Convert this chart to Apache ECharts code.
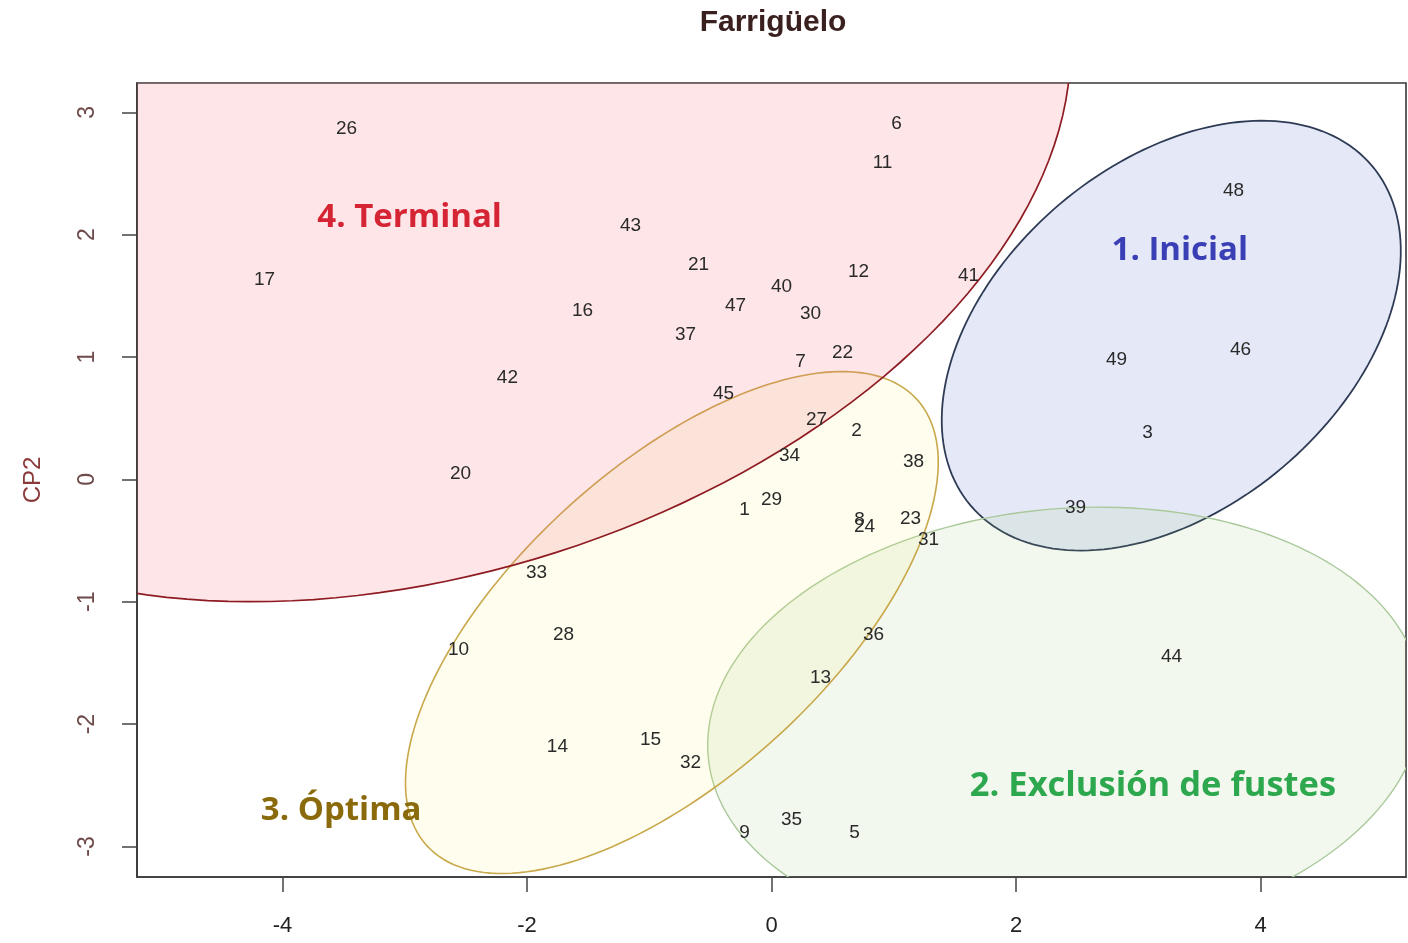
<!DOCTYPE html>
<html>
<head>
<meta charset="utf-8">
<script src="https://cdn.jsdelivr.net/npm/echarts@6/dist/echarts.min.js"></script>
<style>
html,body{margin:0;padding:0;background:#fff;}
#chart{width:1408px;height:943px;}
</style>
</head>
<body>
<div id="chart"></div>
<script>
// ---- data ----
const pointIds = ['26','6','11','48','43','21','17','12','41','40','47','16','30','37','22','7','49','46','42','45','27','2','3','34','38','20','29','1','39','8','24','23','31','33','28','10','36','44','13','14','15','32','35','5','9'];
const cp1 = [-3.476,1.022,0.908,3.779,-1.153,-0.597,-4.147,0.712,1.611,0.082,-0.294,-1.546,0.319,-0.703,0.581,0.237,2.822,3.836,-2.160,-0.393,0.368,0.695,3.076,0.147,1.162,-2.544,0.000,-0.221,2.487,0.720,0.761,1.137,1.284,-1.922,-1.701,-2.560,0.834,3.272,0.401,-1.751,-0.990,-0.663,0.164,0.679,-0.221];
const cp2 = [2.864,2.904,2.586,2.357,2.071,1.753,1.634,1.695,1.663,1.577,1.422,1.381,1.357,1.185,1.034,0.960,0.976,1.058,0.829,0.700,0.490,0.396,0.380,0.192,0.143,0.045,-0.168,-0.249,-0.233,-0.331,-0.388,-0.323,-0.491,-0.764,-1.271,-1.393,-1.271,-1.450,-1.622,-2.185,-2.128,-2.316,-2.782,-2.888,-2.888];

// ellipses (one per stage)
const ellipseNames = ['1. Inicial','2. Exclusión de fustes','3. Óptima','4. Terminal'];
const ellCx = [3.27, 2.40, -0.815, -2.75];
const ellCy = [1.175, -2.00, -1.17, 2.50];
const ellA = [2.15, 2.93, 2.71, 5.355];
const ellB = [1.41, 1.76, 1.27, 3.251];
const ellAngle = [40.2, 5.3, 42.3, 17.73];

// stage label anchors
const stageLabelX = [3.34, 3.12, -3.52, -2.96];
const stageLabelY = [1.87, -2.51, -2.71, 2.14];

const xTicks = [-4, -2, 0, 2, 4];
const yTicks = [-3, -2, -1, 0, 1, 2, 3];

// ---- styles ----
const ellFill = ['rgba(80,110,200,0.15)','rgba(150,190,110,0.11)','rgba(250,235,100,0.11)','rgba(245,100,120,0.17)'];
const ellStroke = ['#2E3B55','#A9C99A','#C8A84A','#8E1B22'];
const ellWidth = [1.8, 1.4, 1.6, 1.7];
const stageColor = ['#3A3FB5','#2DA84E','#8A6A0A','#D52535'];

const chart = echarts.init(document.getElementById('chart'));
const option = {
  backgroundColor: '#fff',
  animation: false,
  title: {
    text: 'Farrigüelo',
    left: 768, top: 3, textAlign: 'center',
    textStyle: {fontFamily: 'Liberation Sans', fontWeight: 'bold', fontSize: 30, color: '#3b2020'}
  },
  grid: {left: 137, right: 2, top: 83, bottom: 66, show: true, borderColor: '#383838', borderWidth: 1.6, backgroundColor: 'transparent'},
  xAxis: {
    type: 'value', min: -5.19, max: 5.19,
    splitLine: {show: false},
    axisLine: {show: true, onZero: false, lineStyle: {color: '#383838', width: 1.6}},
    axisTick: {show: true, length: 15, customValues: xTicks, lineStyle: {color: '#444', width: 1.5}},
    axisLabel: {customValues: xTicks, margin: 38, fontSize: 22, color: '#222', fontFamily: 'Liberation Sans'}
  },
  yAxis: {
    type: 'value', min: -3.25, max: 3.24,
    name: 'CP2', nameLocation: 'middle', nameGap: 92,
    nameTextStyle: {color: '#8B3A3A', fontSize: 24, fontFamily: 'Liberation Sans'},
    splitLine: {show: false},
    axisLine: {show: true, onZero: false, lineStyle: {color: '#383838', width: 1.6}},
    axisTick: {show: true, length: 15, customValues: yTicks, lineStyle: {color: '#444', width: 1.5}},
    axisLabel: {customValues: yTicks, rotate: 90, margin: 38, fontSize: 23, color: '#6E4A4A', fontFamily: 'Liberation Sans'}
  },
  series: [
    {
      type: 'custom',
      clip: true,
      z: 2,
      data: ellipseNames.map((n, i) => [ellCx[i], ellCy[i]]),
      encode: {x: 0, y: 1},
      renderItem: function (params, api) {
        const i = params.dataIndex;
        const th = ellAngle[i] * Math.PI / 180;
        const pts = [];
        const N = 180;
        for (let k = 0; k <= N; k++) {
          const t = 2 * Math.PI * k / N;
          const x = ellCx[i] + ellA[i] * Math.cos(t) * Math.cos(th) - ellB[i] * Math.sin(t) * Math.sin(th);
          const y = ellCy[i] + ellA[i] * Math.cos(t) * Math.sin(th) + ellB[i] * Math.sin(t) * Math.cos(th);
          pts.push(api.coord([x, y]));
        }
        const cs = params.coordSys;
        return {
          type: 'group',
          clipPath: {type: 'rect', shape: {x: cs.x, y: cs.y, width: cs.width, height: cs.height}},
          children: [{
            type: 'polygon',
            shape: {points: pts},
            style: {fill: ellFill[i], stroke: ellStroke[i], lineWidth: ellWidth[i]}
          }]
        };
      }
    },
    {
      type: 'scatter',
      z: 5,
      symbolSize: 1,
      itemStyle: {color: 'rgba(0,0,0,0)', opacity: 1},
      data: pointIds.map((id, i) => ({name: id, value: [cp1[i], cp2[i]]})),
      label: {
        show: true, position: 'inside', formatter: '{b}', opacity: 1,
        fontSize: 19, color: '#2a2a2a', fontFamily: 'Liberation Sans'
      },
      labelLayout: {hideOverlap: false}
    },
    {
      type: 'scatter',
      z: 6,
      symbolSize: 1,
      itemStyle: {color: 'rgba(0,0,0,0)', opacity: 1},
      data: ellipseNames.map((n, i) => ({
        name: n, value: [stageLabelX[i], stageLabelY[i]],
        label: {color: stageColor[i], fontSize: i === 1 ? 34.5 : 33}
      })),
      label: {
        show: true, position: 'inside', formatter: '{b}', opacity: 1,
        fontSize: 33, fontWeight: 'bold', fontFamily: 'Open Sans'
      }
    }
  ]
};
chart.setOption(option);
</script>
</body>
</html>
